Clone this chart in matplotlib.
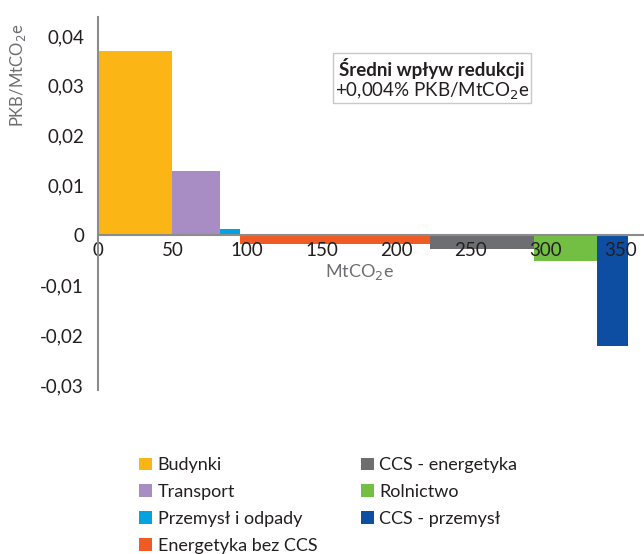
import matplotlib
matplotlib.use("Agg")
import matplotlib.pyplot as plt
from matplotlib.patches import Patch, Rectangle
from matplotlib.ticker import FuncFormatter, FixedLocator

plt.rcParams['font.family'] = ['Lato', 'DejaVu Sans']

# sectors in curve order
sectors = ['Budynki', 'Transport', 'Przemysł i odpady', 'Energetyka bez CCS',
           'CCS - energetyka', 'Rolnictwo', 'CCS - przemysł']
widths = [49.5, 32.5, 13.5, 127.0, 70.0, 42.0, 21.0]        # MtCO2e
impact = [0.037, 0.013, 0.0012, -0.0018, -0.0028, -0.0052, -0.0222]  # PKB/MtCO2e
colors = ['#FBB616', '#A78DC3', '#00A3E0', '#F05A23', '#6D6E71', '#72BF44', '#0D4EA2']

x_ticks = [0, 50, 100, 150, 200, 250, 300, 350]
y_ticks = [-0.03, -0.02, -0.01, 0, 0.01, 0.02, 0.03, 0.04]

fig = plt.figure(figsize=(6.44, 5.54), dpi=100)
ax = fig.add_axes([98 / 644, 1 - 390 / 554, 1 - 98 / 644, (390 - 17) / 554])

left = 0
lefts = []
for w in widths:
    lefts.append(left)
    left += w
ax.bar(lefts, impact, width=widths, align='edge', color=colors, linewidth=0)

ax.set_xlim(0, 366)
ax.set_ylim(-0.031, 0.0438)
for s in ['top', 'right']:
    ax.spines[s].set_visible(False)
ax.spines['bottom'].set_position(('data', 0))
for s in ['bottom', 'left']:
    ax.spines[s].set_color('#8c8c8c')
    ax.spines[s].set_linewidth(1.5)

ax.xaxis.set_major_locator(FixedLocator(x_ticks))
ax.yaxis.set_major_locator(FixedLocator(y_ticks))
ax.yaxis.set_major_formatter(FuncFormatter(
    lambda v, p: '0' if abs(v) < 1e-9 else f'{v:.2f}'.replace('.', ',')))
ax.tick_params(length=0, labelsize=13.5, colors='#231F20')
ax.tick_params(axis='x', pad=5)
ax.tick_params(axis='y', pad=10)

fig.text(18 / 644, 1 - 75 / 554, 'PKB/MtCO$_2$e', rotation=90, ha='center', va='center',
         fontsize=12, color='#6d6e71')
ax.text(175, -0.0074, 'MtCO$_2$e', ha='center', va='center', fontsize=13, color='#6d6e71')

# annotation box
ax.add_patch(Rectangle((0.430, 0.769), 0.363, 0.134, transform=ax.transAxes,
                       facecolor='white', edgecolor='#c8c8c8', lw=1, zorder=3))
ax.text(0.612, 0.863, 'Średni wpływ redukcji', transform=ax.transAxes, ha='center',
        va='center', fontsize=13.5, fontweight='bold', color='#231F20', zorder=4)
ax.text(0.612, 0.800, '+0,004% PKB/MtCO$_2$e', transform=ax.transAxes, ha='center',
        va='center', fontsize=13.5, color='#231F20', zorder=4)

handles = [Patch(facecolor=c, edgecolor='none') for c in colors]
fig.legend(handles, sectors, loc='upper left', bbox_to_anchor=(123 / 644, 1 - 441 / 554),
           ncol=2, frameon=False, fontsize=13, handlelength=0.72, handleheight=0.72,
           handletextpad=0.3, labelspacing=0.6, columnspacing=2.4, labelcolor='#231F20')

fig.savefig('out.png', dpi=100)
